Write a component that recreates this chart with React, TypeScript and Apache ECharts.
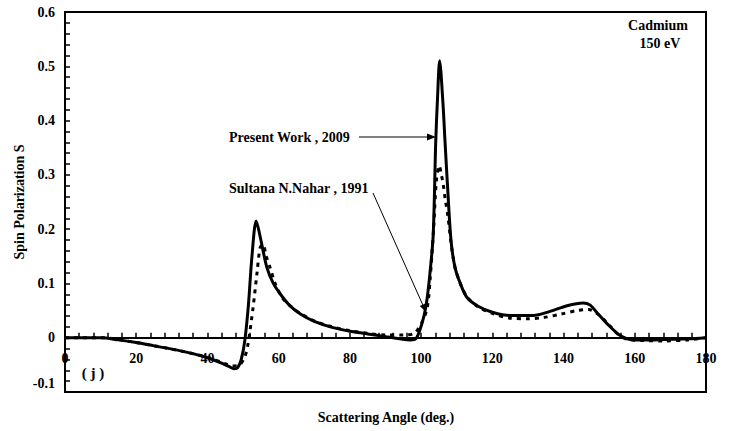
import React, { useEffect, useRef } from "react";
import * as echarts from "echarts";

// Present Work, 2009 (solid)
const solidAngles = [0, 5, 10, 15, 20, 25, 30, 35, 40, 44, 46, 47.5, 48.5, 49.5, 50.5, 51.5, 52.5, 53.7, 55, 56.7, 58.5, 60.4, 63, 66, 70, 75, 80, 85, 90, 94, 97, 98.5, 99.7, 100.8, 101.6, 102.5, 103.4, 104.1, 104.6, 105.2, 106.1, 106.7, 107.5, 108.4, 109.5, 111, 112.9, 116, 120, 125, 131.5, 136, 141, 145.5, 147.5, 149.4, 152.2, 155.9, 159.6, 165, 170, 175, 180];
const solidValues = [0, 0, 0, -0.004, -0.009, -0.015, -0.021, -0.028, -0.037, -0.047, -0.053, -0.057, -0.055, -0.04, -0.005, 0.06, 0.15, 0.215, 0.18, 0.129, 0.1, 0.081, 0.06, 0.044, 0.03, 0.019, 0.012, 0.007, 0.002, -0.002, -0.004, -0.002, 0.015, 0.04, 0.068, 0.12, 0.19, 0.36, 0.44, 0.51, 0.436, 0.363, 0.27, 0.179, 0.13, 0.1, 0.074, 0.058, 0.047, 0.041, 0.041, 0.048, 0.059, 0.064, 0.06, 0.046, 0.026, 0.004, -0.004, -0.004, -0.003, -0.002, 0];

// Sultana N.Nahar, 1991 (dashed)
const dashedAngles = [0, 10, 20, 30, 40, 45, 47, 49, 50.5, 51.4, 52.8, 53.9, 54.8, 55.6, 56.5, 57.6, 59, 61, 63, 66, 70, 75, 80, 85, 90, 95, 98, 100, 101.7, 102.5, 103.5, 104.3, 105.1, 105.7, 106.2, 106.7, 107.5, 108.5, 109.5, 111, 113, 116, 120, 125, 130, 134.3, 139.6, 143.8, 147, 149.5, 151.1, 153, 155.5, 158, 162, 168, 175, 180];
const dashedValues = [0, 0, -0.009, -0.021, -0.036, -0.048, -0.052, -0.05, -0.035, -0.011, 0.055, 0.118, 0.166, 0.172, 0.15, 0.129, 0.1, 0.074, 0.06, 0.045, 0.031, 0.02, 0.013, 0.008, 0.005, 0.005, 0.008, 0.025, 0.055, 0.105, 0.2, 0.29, 0.317, 0.3, 0.283, 0.258, 0.225, 0.17, 0.13, 0.1, 0.074, 0.057, 0.045, 0.036, 0.035, 0.037, 0.044, 0.05, 0.052, 0.044, 0.035, 0.022, 0.005, -0.003, -0.005, -0.006, -0.004, 0];

const xTitle = "Scattering Angle (deg.)";
const yTitle = "Spin Polarization S";
const labelPresent = "Present Work , 2009";
const labelSultana = "Sultana N.Nahar , 1991";
const infoLines = ["Cadmium", "150 eV"];
const panelTag = "( j )";

const FONT = "'Liberation Serif', 'Times New Roman', serif";
const Y_MIN = -0.1;
const Y_MAX = 0.6;
const GRID_TOP = 12;
const GRID_BOTTOM = 39;
const CHART_H = 431;

export default function App() {
  const ref = useRef<HTMLDivElement>(null);
  useEffect(() => {
    document.body.style.margin = "0";
    if (!ref.current) return;
    const chart = echarts.init(ref.current, undefined, { renderer: "svg" });
    const txt = (text: string, x: number, y: number, align: string = "center", size = 14) => ({
      type: "text",
      x,
      y,
      style: {
        text,
        fill: "#000",
        font: `bold ${size}px ${FONT}`,
        align,
        verticalAlign: "middle",
      },
    });
    const solid = solidAngles.map((a, i) => [a, solidValues[i]]);
    const dashed = dashedAngles.map((a, i) => [a, dashedValues[i]]);
    const gridH = CHART_H - GRID_TOP - GRID_BOTTOM;
    const zeroOffset = -(gridH * (0 - Y_MIN)) / (Y_MAX - Y_MIN);
    chart.setOption({
      animation: false,
      backgroundColor: "#fff",
      grid: {
        left: 65,
        right: 28,
        top: GRID_TOP,
        bottom: GRID_BOTTOM,
        show: true,
        borderColor: "#000",
        borderWidth: 2,
        backgroundColor: "transparent",
      },
      xAxis: {
        type: "value",
        min: 0,
        max: 180,
        interval: 20,
        offset: zeroOffset,
        axisLine: { show: true, onZero: false, lineStyle: { color: "#000", width: 2 } },
        axisTick: { show: true, inside: true, length: 5, lineStyle: { color: "#000", width: 1.5 } },
        minorTick: { show: true, splitNumber: 5, length: 5, lineStyle: { color: "#000", width: 1.5 } },
        splitLine: { show: false },
        axisLabel: {
          color: "#000",
          fontWeight: "bold",
          fontFamily: FONT,
          fontSize: 14,
          margin: 14,
        },
      },
      yAxis: {
        type: "value",
        min: Y_MIN,
        max: Y_MAX,
        interval: 0.1,
        name: yTitle,
        nameLocation: "middle",
        nameGap: 38,
        nameTextStyle: { color: "#000", fontWeight: "bold", fontFamily: FONT, fontSize: 14 },
        axisLine: { show: true, lineStyle: { color: "#000", width: 2 } },
        axisTick: { show: true, inside: true, length: 5, lineStyle: { color: "#000", width: 1.5 } },
        minorTick: { show: true, splitNumber: 5, length: 5, lineStyle: { color: "#000", width: 1.5 } },
        splitLine: { show: false },
        axisLabel: {
          color: "#000",
          fontWeight: "bold",
          fontFamily: FONT,
          fontSize: 14,
          margin: 10,
          showMinLabel: false,
          formatter: (v: number) => String(Math.round(v * 10) / 10),
        },
      },
      series: [
        {
          type: "line",
          data: solid,
          smooth: 0.3,
          symbol: "none",
          lineStyle: { color: "#000", width: 3 },
          z: 3,
        },
        {
          type: "line",
          data: dashed,
          smooth: 0.3,
          symbol: "none",
          lineStyle: { color: "#000", width: 3, type: [4, 5] },
          z: 4,
        },
      ],
      graphic: [
        txt("-0.1", 55, 383, "right"),
        txt(xTitle, 386, 417),
        txt(infoLines[0], 658, 25),
        txt(infoLines[1], 660, 43),
        txt(panelTag, 93, 373, "center", 15),
        txt(labelPresent, 229, 137, "left"),
        txt(labelSultana, 229, 188, "left"),
        {
          type: "line",
          shape: { x1: 359, y1: 137, x2: 430, y2: 137 },
          style: { stroke: "#000", lineWidth: 1 },
        },
        {
          type: "polygon",
          shape: { points: [[436, 137], [427, 133.5], [427, 140.5]] },
          style: { fill: "#000" },
        },
        {
          type: "line",
          shape: { x1: 373, y1: 193, x2: 423.5, y2: 306.5 },
          style: { stroke: "#000", lineWidth: 1 },
        },
        {
          type: "polygon",
          shape: { points: [[426, 312], [419.8, 305.9], [425.5, 303.4]] },
          style: { fill: "#000" },
        },
      ],
    });
    return () => chart.dispose();
  }, []);
  return <div ref={ref} style={{ width: 734, height: 431 }} />;
}
